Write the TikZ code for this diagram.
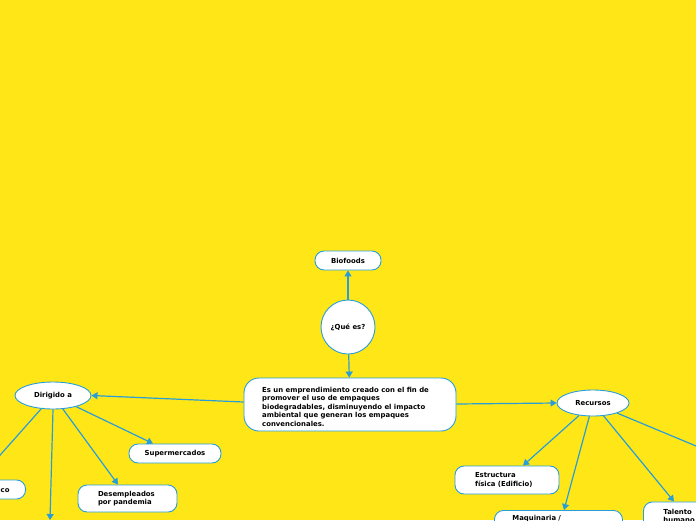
\documentclass[tikz,border=0pt]{standalone}
\usepackage{fontspec}
\setmainfont{DejaVu Sans}
\usetikzlibrary{arrows.meta,shapes.geometric}
\definecolor{bg}{RGB}{255,230,23}
\definecolor{ln}{RGB}{40,158,216}
\tikzset{
  box/.style={draw=ln,line width=0.9pt,fill=white,rounded corners=9pt,inner sep=0pt,
    font=\fontsize{6.9}{8.5}\selectfont\bfseries},
  oval/.style={draw=ln,line width=0.9pt,fill=white,ellipse,inner sep=0pt,
    font=\fontsize{6.9}{8.5}\selectfont\bfseries},
  conn/.style={draw=ln,line width=1.2pt,-{Triangle[length=6pt,width=7pt]}},
  plain/.style={draw=ln,line width=1.2pt},
}
\begin{document}
\begin{tikzpicture}[x=1pt,y=-1pt]
\useasboundingbox (0,0) rectangle (696,520);
\clip (0,0) rectangle (696,520);
\fill[bg] (0,0) rectangle (696,520);
% center
\node[box,minimum width=66pt,minimum height=19pt] (bio) at (348,260.5) {Biofoods};
\node[draw=ln,line width=0.9pt,fill=white,circle,minimum size=54pt,inner sep=0pt,font=\fontsize{6.9}{8.5}\selectfont\bfseries] (que) at (348,327) {¿Qué es?};
\node[box,rounded corners=15pt,minimum width=212pt,minimum height=53pt] (main) at (350,404.5) {};
\node[anchor=north west,inner sep=0pt,align=left,font=\fontsize{6.9}{8.5}\selectfont\bfseries] (maintext) at (262,387) {Es un emprendimiento creado con el fin de\\promover el uso de empaques\\biodegradables, disminuyendo el impacto\\ambiental que generan los empaques\\convencionales.};
% left
\node[oval,minimum width=76pt,minimum height=27pt] (dir) at (53,395.5) {Dirigido a};
\node[box,minimum width=92pt,minimum height=19pt] (sup) at (175,453.5) {Supermercados};
\node[box,minimum width=99pt,minimum height=27pt,text width=59pt,align=left,inner xsep=20pt] (des) at (127.5,498.5) {Desempleados\\por pandemia};
\node[box,anchor=east,minimum height=19pt,inner xsep=16pt] (pub) at (26,489.5) {Público};
\coordinate (pubtop) at (-22,480);
\coordinate (down) at (50,520);
% right
\node[oval,minimum width=72pt,minimum height=26pt] (rec) at (593,403) {Recursos};
\node[box,minimum width=104pt,minimum height=28pt,text width=64pt,align=left,inner xsep=20pt] (est) at (507,480) {Estructura\\física (Edificio)};
\node[box,anchor=north west,minimum width=128pt,text width=92pt,align=left,inner xsep=18pt,inner ysep=5pt] (maq) at (494,510) {Maquinaria /\\\strut};
\node[box,anchor=north west,minimum width=80pt,text width=50pt,align=left,inner xsep=20pt,inner ysep=7pt] (tal) at (643,501.5) {Talento\\humano};
\coordinate (offr) at (720,456);
% connectors
\draw[conn] (que) -- (bio);
\draw[conn] (que) -- (main);
\draw[conn] (main.west |- 0,402) -- (dir.east);
\draw[conn] (main.east |- 0,404) -- (rec.west);
\draw[conn] (dir) -- (sup.north -| 153,0);
\draw[conn] (dir) -- (des.north -| 118,0);
\draw[conn] (dir.south) -- (down);
\draw[conn] (dir) -- (pubtop);
\draw[conn] (rec) -- (est.north -| 523,0);
\draw[conn] (rec) -- (maq.north -| 564,0);
\draw[conn] (rec) -- (tal.north -| 674,0);
\draw[plain] (rec) -- (offr);
\end{tikzpicture}
\end{document}
